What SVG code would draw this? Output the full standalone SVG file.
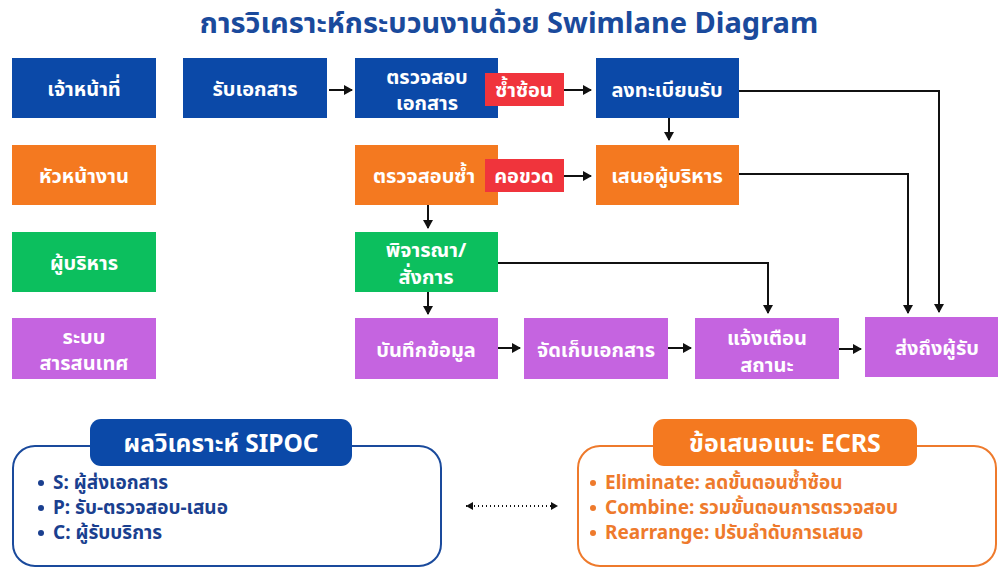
<svg xmlns="http://www.w3.org/2000/svg" width="998" height="569" viewBox="0 0 998 569">
<defs>
<marker id="ah" markerWidth="10" markerHeight="10" refX="8" refY="5" orient="auto" markerUnits="userSpaceOnUse">
<path d="M0,0 L9,5 L0,10 Z" fill="#111"/>
</marker>
<marker id="sa" markerWidth="8" markerHeight="8" refX="7" refY="4" orient="auto" markerUnits="userSpaceOnUse">
<path d="M0,0 L7,4 L0,8 Z" fill="#111"/>
</marker>
<marker id="sb" markerWidth="8" markerHeight="8" refX="1" refY="4" orient="auto" markerUnits="userSpaceOnUse">
<path d="M8,0 L1,4 L8,8 Z" fill="#111"/>
</marker>
</defs>
<style>
text{font-family:"Noto Sans","Noto Sans Thai","Liberation Sans",sans-serif;font-weight:bold}
.t{fill:#fff;font-size:20px;text-anchor:middle;dominant-baseline:central}
.blue{fill:#0b49a8}
.orange{fill:#f47920}
.green{fill:#0cbf5e}
.purple{fill:#c564e0}
.red{fill:#f0343c}
.con{fill:none;stroke:#111;stroke-width:2;marker-end:url(#ah)}
.title{fill:#1a4a9c;font-size:29px;text-anchor:middle}
.sip{fill:#1a3f8f;font-size:19px}
.ecr{fill:#ee7a2c;font-size:19px}
</style>
<rect width="998" height="569" fill="#fff"/>
<text class="title" x="509" y="33">การวิเคราะห์กระบวนงานด้วย Swimlane Diagram</text>

<g id="lane-officer"><rect class="blue" x="12" y="58" width="144" height="60"/><text class="t" x="84" y="88">เจ้าหน้าที่</text></g>
<g id="lane-supervisor"><rect class="orange" x="12" y="145" width="144" height="60"/><text class="t" x="84" y="175">หัวหน้างาน</text></g>
<g id="lane-executive"><rect class="green" x="12" y="232" width="144" height="60"/><text class="t" x="84" y="262">ผู้บริหาร</text></g>
<g id="lane-system"><rect class="purple" x="12" y="318" width="144" height="61"/><text class="t" x="84" y="336">ระบบ</text><text class="t" x="84" y="362">สารสนเทศ</text></g>

<g id="connectors">
<line class="con" x1="329" y1="90" x2="352" y2="90"/>
<line class="con" x1="564" y1="90" x2="591" y2="90"/>
<line class="con" x1="564" y1="176" x2="591" y2="176"/>
<line class="con" x1="669" y1="118" x2="669" y2="140"/>
<line class="con" x1="428" y1="205" x2="428" y2="228"/>
<line class="con" x1="428" y1="292" x2="428" y2="314"/>
<line class="con" x1="498" y1="348" x2="520" y2="348"/>
<line class="con" x1="668" y1="348" x2="691" y2="348"/>
<line class="con" x1="839" y1="349" x2="861" y2="349"/>
<polyline class="con" points="739,91 939,91 939,312"/>
<polyline class="con" points="739,174 908,174 908,313"/>
<polyline class="con" points="498,263 768,263 768,313"/>
<line x1="466" y1="506" x2="558" y2="506" stroke="#111" stroke-width="2" stroke-dasharray="1 3" marker-start="url(#sb)" marker-end="url(#sa)"/>
</g>

<g id="n-receive"><rect class="blue" x="183" y="58" width="144" height="60"/><text class="t" x="255" y="88">รับเอกสาร</text></g>
<g id="n-check"><rect class="blue" x="355" y="58" width="143" height="60"/><text class="t" x="427" y="76">ตรวจสอบ</text><text class="t" x="427" y="102">เอกสาร</text></g>
<g id="b-dup"><rect class="red" x="485" y="73" width="79" height="33"/><text class="t" x="524" y="89">ซ้ำซ้อน</text></g>
<g id="n-register"><rect class="blue" x="596" y="58" width="143" height="60"/><text class="t" x="667" y="89">ลงทะเบียนรับ</text></g>

<g id="n-recheck"><rect class="orange" x="355" y="145" width="143" height="60"/><text class="t" x="424" y="175">ตรวจสอบซ้ำ</text></g>
<g id="b-bottleneck"><rect class="red" x="485" y="159" width="79" height="33"/><text class="t" x="524" y="175">คอขวด</text></g>
<g id="n-propose"><rect class="orange" x="596" y="145" width="143" height="60"/><text class="t" x="667" y="175">เสนอผู้บริหาร</text></g>

<g id="n-consider"><rect class="green" x="355" y="232" width="143" height="60"/><text class="t" x="426" y="249">พิจารณา/</text><text class="t" x="426" y="276">สั่งการ</text></g>

<g id="n-record"><rect class="purple" x="355" y="318" width="143" height="61"/><text class="t" x="426" y="349">บันทึกข้อมูล</text></g>
<g id="n-store"><rect class="purple" x="524" y="318" width="144" height="61"/><text class="t" x="596" y="349">จัดเก็บเอกสาร</text></g>
<g id="n-notify"><rect class="purple" x="695" y="318" width="144" height="61"/><text class="t" x="767" y="337">แจ้งเตือน</text><text class="t" x="767" y="364">สถานะ</text></g>
<g id="n-deliver"><rect class="purple" x="865" y="317" width="133" height="60"/><text class="t" x="937" y="347">ส่งถึงผู้รับ</text></g>

<g id="sipoc">
<rect x="13" y="446" width="428" height="120" rx="22" fill="#fff" stroke="#1a4a9c" stroke-width="2"/>
<rect x="90" y="419" width="262" height="47" rx="11" fill="#0b49a8"/>
<text x="221" y="452" fill="#fff" font-size="24.5" text-anchor="middle">ผลวิเคราะห์ SIPOC</text>
<circle cx="41" cy="483" r="3" fill="#1a3f8f"/><text class="sip" x="53" y="489">S: ผู้ส่งเอกสาร</text>
<circle cx="41" cy="508" r="3" fill="#1a3f8f"/><text class="sip" x="53" y="514">P: รับ-ตรวจสอบ-เสนอ</text>
<circle cx="41" cy="533" r="3" fill="#1a3f8f"/><text class="sip" x="53" y="539">C: ผู้รับบริการ</text>
</g>

<g id="ecrs">
<rect x="578" y="446" width="418" height="120" rx="22" fill="#fff" stroke="#ee7a2c" stroke-width="2"/>
<rect x="653" y="419" width="264" height="47" rx="11" fill="#f47920"/>
<text x="785" y="452" fill="#fff" font-size="25" text-anchor="middle">ข้อเสนอแนะ ECRS</text>
<circle cx="593" cy="483" r="3" fill="#ee7a2c"/><text class="ecr" x="605" y="489">Eliminate: ลดขั้นตอนซ้ำซ้อน</text>
<circle cx="593" cy="508" r="3" fill="#ee7a2c"/><text class="ecr" x="605" y="514">Combine: รวมขั้นตอนการตรวจสอบ</text>
<circle cx="593" cy="533" r="3" fill="#ee7a2c"/><text class="ecr" x="605" y="539">Rearrange: ปรับลำดับการเสนอ</text>
</g>
</svg>
